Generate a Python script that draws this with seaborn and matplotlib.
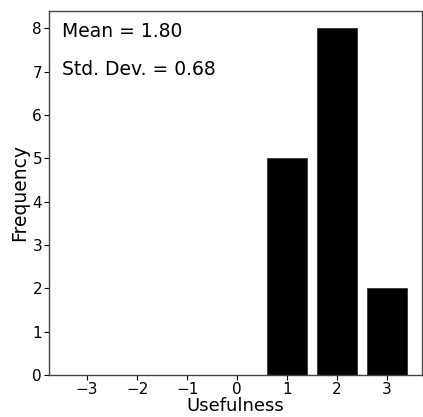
import matplotlib
matplotlib.use("Agg")
import matplotlib.pyplot as plt
import seaborn as sns
import pandas as pd
import numpy as np

# Usefulness ratings and counts
scores = [-3, -2, -1, 0, 1, 2, 3]
counts = [0, 0, 0, 0, 5, 8, 2]
tick_labels = ["\u22123", "\u22122", "\u22121", "0", "1", "2", "3"]

df = pd.DataFrame({"score": [str(s) for s in scores], "count": counts})

values = np.repeat(scores, counts)
mean = values.mean()
std = values.std(ddof=1)

plt.rcParams["font.family"] = ["DejaVu Sans"]

fig = plt.figure(figsize=(4.23, 4.17), dpi=100)
ax = fig.add_axes([0.116, 0.101, 0.882, 0.873])

sns.barplot(data=df, x="score", y="count", order=df["score"], color="black",
            edgecolor="#333333", linewidth=0.6, width=0.8, saturation=1, ax=ax)

ax.set_xlim(-0.76, 6.7)
ax.set_ylim(0, 8.4)
ax.set_xticks(range(len(scores)))
ax.set_xticklabels(tick_labels)
ax.set_yticks(range(0, 9))

ax.set_xlabel("Usefulness", fontsize=13, labelpad=0, color="black")
ax.set_ylabel("Frequency", fontsize=13.5, labelpad=2, color="black")
ax.tick_params(axis="both", labelsize=11, length=3.5, width=0.8, direction="out",
               bottom=True, left=True, pad=1.5, colors="black")

for s in ax.spines.values():
    s.set_color("#444444")
    s.set_linewidth(1.0)

ax.text(0.035, 0.943, f"Mean = {mean:.2f}", transform=ax.transAxes,
        fontsize=13.5, va="center", ha="left", color="black")
ax.text(0.035, 0.839, f"Std. Dev. = {std:.2f}", transform=ax.transAxes,
        fontsize=13.5, va="center", ha="left", color="black")

fig.savefig("out.png", dpi=100)
